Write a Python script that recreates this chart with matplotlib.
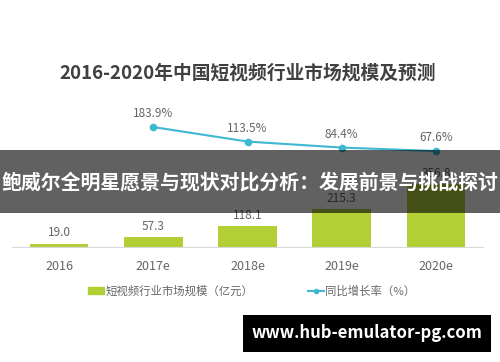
import matplotlib
matplotlib.use("Agg")
import matplotlib.pyplot as plt
from matplotlib.patches import Rectangle
from matplotlib.lines import Line2D

plt.rcParams["font.family"] = ["Noto Sans CJK SC", "DejaVu Sans"]

# data
years = ["2016", "2017e", "2018e", "2019e", "2020e"]
market_size = [19.0, 57.3, 118.1, 215.3, 356.8]
growth_years = ["2017e", "2018e", "2019e", "2020e"]
growth_rate = [183.9, 113.5, 84.4, 67.6]

title = "2016-2020年中国短视频行业市场规模及预测"
banner = "鲍威尔全明星愿景与现状对比分析：发展前景与挑战探讨"
watermark = "www.hub-emulator-pg.com"
bar_label = "短视频行业市场规模（亿元）"
line_label = "同比增长率（%）"

BAR_C = "#b2cf35"
LINE_C = "#3fb8d2"
TXT_C = "#666666"

W, H = 500, 362
fig = plt.figure(figsize=(W / 100, H / 100), dpi=100)

# axes: baseline at y=247px, 141.6px tall
ax = fig.add_axes([12 / W, (H - 247) / H, 471 / W, 141.6 / H])
xs = list(range(len(years)))
ax.bar(xs, market_size, width=0.62, color=BAR_C, zorder=2)
ax.set_xlim(-0.5, 4.5)
ax.set_ylim(0, 800)
for x, v in zip(xs, market_size):
    ax.annotate(f"{v:.1f}", (x, v), xytext=(0, 3), textcoords="offset points",
                ha="center", va="bottom", fontsize=8.5, color=TXT_C)
ax.set_xticks(xs)
ax.set_xticklabels(years, fontsize=9, color=TXT_C)
ax.tick_params(axis="x", length=0, pad=9)
ax.set_yticks([])
for s in ["top", "right", "left"]:
    ax.spines[s].set_visible(False)
ax.spines["bottom"].set_color("#d9d9d9")
ax.patch.set_alpha(0)

ax2 = ax.twinx()
ax2.set_ylim(-398, 289)
gx = [years.index(y) for y in growth_years]
ax2.plot(gx, growth_rate, color=LINE_C, lw=1.5, marker="o", ms=4.5, zorder=3)
for x, v in zip(gx, growth_rate):
    ax2.annotate(f"{v:.1f}%", (x, v), xytext=(0, 5), textcoords="offset points",
                 ha="center", va="bottom", fontsize=8.5, color=TXT_C)
ax2.set_yticks([])
for s in ax2.spines.values():
    s.set_visible(False)

fig.text(0.496, 1 - 73 / H, title, ha="center", va="center",
         fontsize=13.5, fontweight="bold", color="#404040")

handles = [Rectangle((0, 0), 1, 1, color=BAR_C),
           Line2D([0], [0], color=LINE_C, lw=1.5, marker="o", ms=3)]
fig.legend(handles, [bar_label, line_label], loc="center",
           bbox_to_anchor=(0.503, 1 - 291 / H), ncol=2, frameon=False,
           fontsize=8.2, labelcolor=TXT_C, columnspacing=4.8,
           handlelength=1.4, handletextpad=0.1, handleheight=0.55)

# overlay banner
fig.patches.append(Rectangle((0, 1 - 213 / H), 1, 63 / H, transform=fig.transFigure,
                             facecolor="black", alpha=0.62, zorder=10))
fig.text(0.5, 1 - 182 / H, banner, ha="center", va="center", fontsize=14.3,
         fontweight="bold", color="white", zorder=11)

# watermark box
fig.patches.append(Rectangle((243 / W, 1 - 352 / H), 248 / W, 37 / H,
                             transform=fig.transFigure, facecolor="black", zorder=10))
fig.text(367 / W, 1 - 333 / H, watermark, ha="center", va="center", fontsize=12,
         fontweight="bold", color="white", zorder=11)

fig.savefig("out.png", dpi=100)
